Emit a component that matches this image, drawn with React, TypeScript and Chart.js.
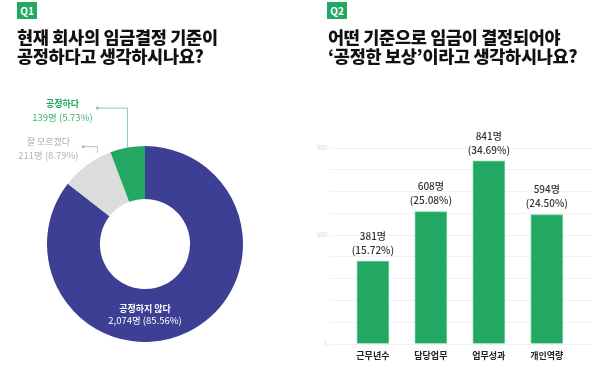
import React, { useEffect, useRef } from 'react';
import { Chart, registerables } from 'chart.js';

Chart.register(...registerables);

const FONT = '"Noto Sans CJK KR", "Noto Sans", sans-serif';

// Q1 data
const q1Labels = ['공정하지 않다', '잘 모르겠다', '공정하다'];
const q1Counts = [2074, 211, 139];
const q1Percents = [85.56, 8.79, 5.73];

// Q2 data
const q2Labels = ['근무년수', '담당업무', '업무성과', '개인역량'];
const q2Counts = [381, 608, 841, 594];
const q2Percents = [15.72, 25.08, 34.69, 24.5];
const q2TickLabels = [0, 500, 900];

const BLUE = '#3c3f93';
const GREEN = '#22a862';
const GRAY = '#dcdcdc';

// label styling for donut slices (annotation layout, not data)
const q1LabelStyle = [
  { inside: true, titleColor: '#ffffff', valueColor: '#ffffff' },
  { inside: false, titleColor: '#a9a9a9', valueColor: '#b5b5b5', lineColor: '#bdbdbd', anchor: 0.78, gap: 5, rise: 6, run: 14 },
  { inside: false, titleColor: '#22a862', valueColor: '#3db374', lineColor: '#7fd3a3', anchor: 0.5, gap: 0, rise: 39.5, run: 30 },
];

const fmtCount = (v: number) => v.toLocaleString('en-US');

const donutLabelsPlugin = {
  id: 'donutLabels',
  afterDatasetsDraw(chart: any) {
    const ctx = chart.ctx;
    const meta = chart.getDatasetMeta(0);
    meta.data.forEach((arc: any, i: number) => {
      const p = arc.getProps(['x', 'y', 'startAngle', 'endAngle', 'innerRadius', 'outerRadius'], true);
      const st: any = q1LabelStyle[i];
      const valueText = `${fmtCount(q1Counts[i])}명 (${q1Percents[i].toFixed(2)}%)`;
      ctx.save();
      ctx.textAlign = 'center';
      ctx.textBaseline = 'middle';
      if (st.inside) {
        const mid = (p.innerRadius + p.outerRadius) / 2;
        ctx.fillStyle = st.titleColor;
        ctx.font = `700 9px ${FONT}`;
        ctx.fillText(q1Labels[i], p.x, p.y + mid - 7);
        ctx.fillStyle = st.valueColor;
        ctx.font = `400 9.5px ${FONT}`;
        ctx.fillText(valueText, p.x, p.y + mid + 5);
      } else {
        const a = p.startAngle + (p.endAngle - p.startAngle) * st.anchor;
        const ax = p.x + (p.outerRadius + st.gap) * Math.cos(a);
        const ay = p.y + (p.outerRadius + st.gap) * Math.sin(a);
        const ey = ay - st.rise;
        const dx = ax - st.run;
        ctx.strokeStyle = st.lineColor;
        ctx.lineWidth = 1;
        ctx.beginPath();
        ctx.moveTo(ax, ay);
        ctx.lineTo(ax, ey);
        ctx.lineTo(dx, ey);
        ctx.stroke();
        ctx.fillStyle = st.lineColor;
        ctx.beginPath();
        ctx.arc(dx, ey, 1.6, 0, Math.PI * 2);
        ctx.fill();
        const tx = dx - 35;
        ctx.fillStyle = st.titleColor;
        ctx.font = `${i === 2 ? 700 : 400} 9px ${FONT}`;
        ctx.fillText(q1Labels[i], tx, ey - 5);
        ctx.fillStyle = st.valueColor;
        ctx.font = `400 9.5px ${FONT}`;
        ctx.fillText(valueText, tx, ey + 9);
      }
      ctx.restore();
    });
  },
};

const barLabelsPlugin = {
  id: 'barLabels',
  afterDatasetsDraw(chart: any) {
    const ctx = chart.ctx;
    const meta = chart.getDatasetMeta(0);
    meta.data.forEach((bar: any, i: number) => {
      const { x, y } = bar.getProps(['x', 'y'], true);
      ctx.save();
      ctx.textAlign = 'center';
      ctx.textBaseline = 'middle';
      ctx.fillStyle = '#333333';
      ctx.font = `500 10px ${FONT}`;
      ctx.fillText(`${q2Counts[i]}명`, x, y - 25);
      ctx.fillText(`(${q2Percents[i].toFixed(2)}%)`, x, y - 11);
      ctx.restore();
    });
  },
};

function DonutChart() {
  const ref = useRef<HTMLCanvasElement>(null);
  useEffect(() => {
    const chart = new Chart(ref.current as HTMLCanvasElement, {
      type: 'doughnut',
      data: {
        labels: q1Labels,
        datasets: [
          {
            data: q1Counts,
            backgroundColor: [BLUE, GRAY, GREEN],
            borderWidth: 0,
          },
        ],
      },
      options: {
        animation: false,
        responsive: false,
        maintainAspectRatio: false,
        cutout: '46%',
        layout: { padding: { left: 47, right: 57, top: 146, bottom: 25 } },
        plugins: { legend: { display: false }, tooltip: { enabled: false } },
      } as any,
      plugins: [donutLabelsPlugin],
    });
    return () => chart.destroy();
  }, []);
  return (
    <canvas
      ref={ref}
      width={300}
      height={367}
      style={{ position: 'absolute', left: 0, top: 0, width: 300, height: 367 }}
    />
  );
}

function BarChart() {
  const ref = useRef<HTMLCanvasElement>(null);
  useEffect(() => {
    const chart = new Chart(ref.current as HTMLCanvasElement, {
      type: 'bar',
      data: {
        datasets: [
          {
            data: q2Counts.map((v, i) => ({ x: i, y: v })),
            backgroundColor: GREEN,
            borderColor: '#6ccf97',
            borderWidth: 1,
            barThickness: 32,
          },
        ],
      },
      options: {
        animation: false,
        responsive: false,
        maintainAspectRatio: false,
        layout: { padding: { top: 148, right: 8, left: 0, bottom: 0 } },
        plugins: { legend: { display: false }, tooltip: { enabled: false } },
        scales: {
          x: {
            type: 'linear',
            offset: false,
            min: -0.74,
            max: 3.78,
            grid: { display: false, drawTicks: false, offset: false },
            border: { display: false },
            afterBuildTicks: (s: any) => {
              s.ticks = q2Labels.map((_, i) => ({ value: i }));
            },
            afterFit: (s: any) => {
              s.height = 23;
            },
            ticks: {
              callback: (v: any) => q2Labels[v as number] ?? '',
              color: '#222222',
              font: { family: FONT, size: 9, weight: '700' },
              padding: 6,
              maxRotation: 0,
              autoSkip: false,
            },
          },
          y: {
            min: 0,
            max: 900,
            afterFit: (s: any) => {
              s.width = 30;
            },
            grid: { color: '#f1f1f1', drawTicks: false },
            border: { display: false },
            ticks: {
              stepSize: 100,
              padding: 3,
              color: '#d6d6d6',
              font: { family: FONT, size: 6 },
              callback: (v: any) => (q2TickLabels.includes(v) ? String(v) : ''),
            },
          },
        },
      } as any,
      plugins: [barLabelsPlugin],
    });
    return () => chart.destroy();
  }, []);
  return (
    <canvas
      ref={ref}
      width={300}
      height={367}
      style={{ position: 'absolute', left: 300, top: 0, width: 300, height: 367 }}
    />
  );
}

const badgeStyle = (left: number): React.CSSProperties => ({
  position: 'absolute',
  left,
  top: 2,
  width: 20,
  height: 17,
  background: GREEN,
  color: '#fff',
  fontFamily: FONT,
  fontWeight: 700,
  fontSize: 10,
  lineHeight: '17px',
  textAlign: 'center',
});

const titleStyle = (left: number): React.CSSProperties => ({
  position: 'absolute',
  left,
  top: 27,
  fontFamily: FONT,
  fontWeight: 900,
  fontSize: 17.5,
  lineHeight: '19px',
  color: '#111',
  letterSpacing: '-0.3px',
  whiteSpace: 'nowrap',
});

export default function App() {
  return (
    <div
      style={{
        position: 'absolute',
        left: 0,
        top: 0,
        width: 600,
        height: 367,
        background: '#fff',
        overflow: 'hidden',
      }}
    >
      <DonutChart />
      <BarChart />
      <div style={badgeStyle(17)}>Q1</div>
      <div style={titleStyle(17)}>
        현재 회사의 임금결정 기준이
        <br />
        공정하다고 생각하시나요?
      </div>
      <div style={badgeStyle(327)}>Q2</div>
      <div style={titleStyle(328)}>
        어떤 기준으로 임금이 결정되어야
        <br />
        ‘공정한 보상’이라고 생각하시나요?
      </div>
    </div>
  );
}
